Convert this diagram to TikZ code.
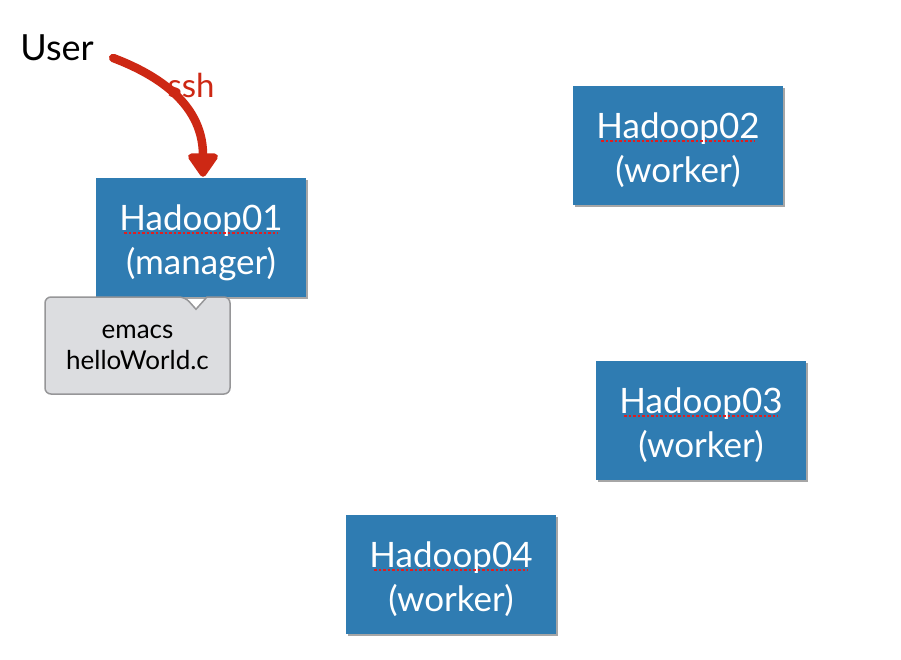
\documentclass[tikz,border=0pt]{standalone}
\usepackage{fontspec}
\setmainfont{Lato}
\usetikzlibrary{arrows.meta,calc,shadows}
\definecolor{boxblue}{RGB}{47,124,178}
\definecolor{sshred}{RGB}{205,40,20}
\definecolor{spellred}{RGB}{225,30,30}
\definecolor{calloutgray}{RGB}{220,221,224}
\definecolor{calloutedge}{RGB}{150,150,152}
\tikzset{
  hbox/.style={fill=boxblue, minimum width=210pt, minimum height=119pt, inner sep=0pt,
    drop shadow={shadow xshift=2pt, shadow yshift=-2pt, opacity=0.35, fill=black}},
  boxtext/.style={text=white, align=center, inner sep=0pt, font=\fontsize{35}{44}\selectfont},
  spell/.style={spellred, line width=1.5pt, dash pattern=on 2.5pt off 2pt},
}
\begin{document}
\begin{tikzpicture}[x=1pt,y=-1pt]
\useasboundingbox[fill=white] (0,0) rectangle (901,659);

\node[font=\fontsize{36}{40}\selectfont, anchor=center] (user) at (57,48) {User};

\node[hbox] (h1) at (201,237.5) {};
\node[hbox] (h2) at (678,145.5) {};
\node[hbox] (h3) at (701,420.5) {};
\node[hbox] (h4) at (451,574.5) {};
\node[boxtext] (t1) at ($(h1.center)+(0,5)$) {Hadoop01\\(manager)};
\node[boxtext] (t2) at ($(h2.center)+(0,5)$) {Hadoop02\\(worker)};
\node[boxtext] (t3) at ($(h3.center)+(0,5)$) {Hadoop03\\(worker)};
\node[boxtext] (t4) at ($(h4.center)+(0,5)$) {Hadoop04\\(worker)};

% spell-check underlines
\draw[spell] ($(h1.center)+(-77,-4.5)$) -- ($(h1.center)+(77,-4.5)$);
\draw[spell] ($(h2.center)+(-77,-4.5)$) -- ($(h2.center)+(77,-4.5)$);
\draw[spell] ($(h3.center)+(-77,-4.5)$) -- ($(h3.center)+(77,-4.5)$);
\draw[spell] ($(h4.center)+(-77,-4.5)$) -- ($(h4.center)+(77,-4.5)$);

% ssh arrow
\draw[sshred, line width=8.5pt, line cap=round,
  -{Triangle[width=34pt,length=26pt,round]}]
  ($(user.east)+(16,10)$) .. controls (150,72) and (203,100) .. ($(h1.north -| 203,0)+(0,-1)$);
\node[font=\fontsize{33}{36}\selectfont, text=sshred] (ssh) at (191,85) {ssh};

% callout
\coordinate (tip) at ($(h1.south)+(-5,12)$);
\draw[fill=calloutgray, draw=calloutedge, line width=1.5pt, rounded corners=6pt]
  (45,297) -- (185,297) [sharp corners] -- (tip) -- (207,297) [rounded corners=6pt]
  -- (230,297) -- (230,394) -- (45,394) -- cycle;
\node[align=center, font=\fontsize{26}{31}\selectfont] (note) at (137.5,347) {emacs\\helloWorld.c};
\end{tikzpicture}
\end{document}
